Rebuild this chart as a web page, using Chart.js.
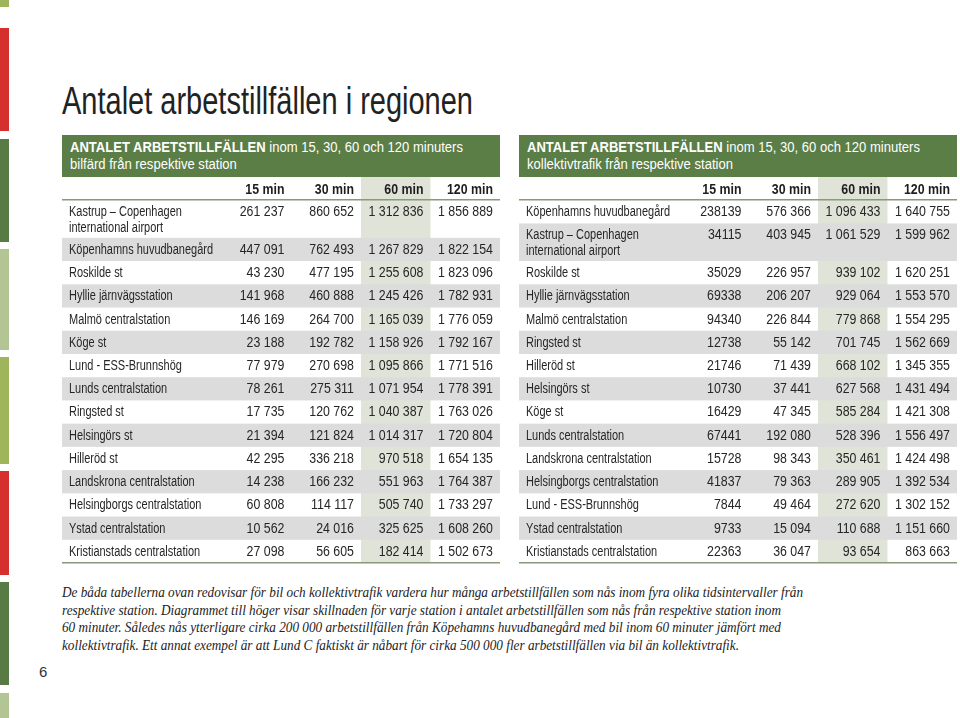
<!DOCTYPE html>
<html><head><meta charset="utf-8">
<script src="https://cdn.jsdelivr.net/npm/chart.js@4.4.1/dist/chart.umd.min.js"></script>
<style>
html,body{margin:0;padding:0;background:#fff}
body{width:960px;height:718px;position:relative;overflow:hidden;font-family:"Liberation Sans",Arial,sans-serif;color:#2b2b2b}
.stripe{position:absolute;left:0;width:9px}
#title{position:absolute;left:62px;top:81px;margin:0;font-weight:normal;font-size:38px;line-height:40px;white-space:nowrap;color:#222;transform-origin:0 0;display:inline-block}
.bar{position:absolute;top:135px;height:42px;width:438px;background:#5b7d46;color:#fff;box-sizing:border-box;padding:4px 0 0 8px;font-size:15.5px;line-height:16.5px}
.bar span{display:inline-block;white-space:nowrap;transform-origin:0 0}
canvas.tbl{position:absolute;top:177px}
#caption{position:absolute;left:62px;top:584px;font-family:"Liberation Serif",serif;font-style:italic;font-size:14px;line-height:17.6px;color:#222}
#caption span{display:inline-block;white-space:nowrap;transform-origin:0 0}
#pnum{position:absolute;left:39px;top:663px;font-size:15px;color:#333}
</style></head>
<body>
<div class="stripe" style="top:0;height:7px;background:#9fb55b"></div>
<div class="stripe" style="top:28px;height:103px;background:#d6302e"></div>
<div class="stripe" style="top:139px;height:103px;background:#587a45"></div>
<div class="stripe" style="top:249px;height:101px;background:#b3c495"></div>
<div class="stripe" style="top:357px;height:107px;background:#9fb55b"></div>
<div class="stripe" style="top:471px;height:104px;background:#d6302e"></div>
<div class="stripe" style="top:582px;height:103px;background:#587a45"></div>
<div class="stripe" style="top:693px;height:25px;background:#b3c495"></div>

<h1 id="title">Antalet arbetstillfällen i regionen</h1>

<div class="bar" style="left:62px"><span id="h1a"><b>ANTALET ARBETSTILLFÄLLEN</b> inom 15, 30, 60 och 120 minuters</span><br><span id="h1b">bilfärd från respektive station</span></div>
<div class="bar" style="left:519px"><span id="h2a"><b>ANTALET ARBETSTILLFÄLLEN</b> inom 15, 30, 60 och 120 minuters</span><br><span id="h2b">kollektivtrafik från respektive station</span></div>

<canvas class="tbl" id="carTable" width="438" height="389" style="left:62px"></canvas>
<canvas class="tbl" id="ptTable" width="438" height="389" style="left:519px"></canvas>

<div id="caption">
<span id="cap1">De båda tabellerna ovan redovisar för bil och kollektivtrafik vardera hur många arbetstillfällen som nås inom fyra olika tidsintervaller från</span><br>
<span id="cap2">respektive station. Diagrammet till höger visar skillnaden för varje station i antalet arbetstillfällen som nås från respektive station inom</span><br>
<span id="cap3">60 minuter. Således nås ytterligare cirka 200 000 arbetstillfällen från Köpehamns huvudbanegård med bil inom 60 minuter jämfört med</span><br>
<span id="cap4">kollektivtrafik. Ett annat exempel är att Lund C faktiskt är nåbart för cirka 500 000 fler arbetstillfällen via bil än kollektivtrafik.</span>
</div>
<div id="pnum">6</div>

<script>
// ---- Data ----
const columns = ['15 min', '30 min', '60 min', '120 min'];

const carStations = ['Kastrup – Copenhagen\ninternational airport', 'Köpenhamns huvudbanegård', 'Roskilde st',
  'Hyllie järnvägsstation', 'Malmö centralstation', 'Köge st', 'Lund - ESS-Brunnshög', 'Lunds centralstation',
  'Ringsted st', 'Helsingörs st', 'Hilleröd st', 'Landskrona centralstation', 'Helsingborgs centralstation',
  'Ystad centralstation', 'Kristianstads centralstation'];
const car15  = [261237, 447091, 43230, 141968, 146169, 23188, 77979, 78261, 17735, 21394, 42295, 14238, 60808, 10562, 27098];
const car30  = [860652, 762493, 477195, 460888, 264700, 192782, 270698, 275311, 120762, 121824, 336218, 166232, 114117, 24016, 56605];
const car60  = [1312836, 1267829, 1255608, 1245426, 1165039, 1158926, 1095866, 1071954, 1040387, 1014317, 970518, 551963, 505740, 325625, 182414];
const car120 = [1856889, 1822154, 1823096, 1782931, 1776059, 1792167, 1771516, 1778391, 1763026, 1720804, 1654135, 1764387, 1733297, 1608260, 1502673];

const ptStations = ['Köpenhamns huvudbanegård', 'Kastrup – Copenhagen\ninternational airport', 'Roskilde st',
  'Hyllie järnvägsstation', 'Malmö centralstation', 'Ringsted st', 'Hilleröd st', 'Helsingörs st', 'Köge st',
  'Lunds centralstation', 'Landskrona centralstation', 'Helsingborgs centralstation', 'Lund - ESS-Brunnshög',
  'Ystad centralstation', 'Kristianstads centralstation'];
const pt15  = [238139, 34115, 35029, 69338, 94340, 12738, 21746, 10730, 16429, 67441, 15728, 41837, 7844, 9733, 22363];
const pt30  = [576366, 403945, 226957, 206207, 226844, 55142, 71439, 37441, 47345, 192080, 98343, 79363, 49464, 15094, 36047];
const pt60  = [1096433, 1061529, 939102, 929064, 779868, 701745, 668102, 627568, 585284, 528396, 350461, 289905, 272620, 110688, 93654];
const pt120 = [1640755, 1599962, 1620251, 1553570, 1554295, 1562669, 1345355, 1431494, 1421308, 1556497, 1424498, 1392534, 1302152, 1151660, 863663];

// digit grouping per column (the public-transport 15 min column is printed without spaces)
const carGrouped = [true, true, true, true];
const ptGrouped  = [false, true, true, true];

// ---- Rendering ----
function fmt(v, grouped) {
  const s = String(v);
  return grouped ? s.replace(/\B(?=(\d{3})+(?!\d))/g, ' ') : s;
}

const FONT = '"Liberation Sans", Arial, sans-serif';

function condensedText(ctx, text, x, y, align, sx) {
  ctx.save();
  ctx.translate(x, y);
  ctx.scale(sx, 1);
  ctx.textAlign = align;
  ctx.fillText(text, 0, 0);
  ctx.restore();
}

const tablePlugin = {
  id: 'tableCells',
  afterDraw(chart) {
    const cfg = chart.options.plugins.tableCells;
    const { ctx } = chart;
    const x = chart.scales.x, y = chart.scales.y;
    const rb = cfg.rowBounds, cb = cfg.colBounds;
    const X = v => x.getPixelForValue(v), Y = v => y.getPixelForValue(v);
    const left = X(cb[0]), right = X(cb[cb.length - 1]);
    ctx.save();
    // highlighted 60 min column
    ctx.fillStyle = '#dfe3d8';
    ctx.fillRect(X(cb[3]), Y(rb[0]), X(cb[4]) - X(cb[3]), Y(rb[rb.length - 1]) - Y(rb[0]));
    // alternating grey rows
    ctx.fillStyle = '#dcdcdc';
    for (let i = 0; i < cfg.stations.length; i++) {
      if (i % 2 === 1) {
        const t = Y(rb[i + 1]), b = Y(rb[i + 2]);
        ctx.fillRect(left, t, right - left, b - t);
      }
    }
    // rules
    ctx.strokeStyle = '#879a79';
    ctx.lineWidth = 1.6;
    [rb[1], rb[rb.length - 1]].forEach(v => {
      const yy = Math.round(Y(v)) - 0.2;
      ctx.beginPath(); ctx.moveTo(left, yy); ctx.lineTo(right, yy); ctx.stroke();
    });
    ctx.textBaseline = 'alphabetic';
    // condense factors to mimic the narrow print face
    ctx.font = '14px ' + FONT;
    const sxText = 144 / ctx.measureText('Köpenhamns huvudbanegård').width;
    const sxNum = 55 / ctx.measureText('1 312 836').width;
    ctx.font = 'bold 14.5px ' + FONT;
    const sxHead = 46 / ctx.measureText('120 min').width;
    // header
    ctx.fillStyle = '#1e1e1e';
    cfg.columns.forEach((c, j) => {
      condensedText(ctx, c, X(cb[j + 2]) - 7, Y(rb[0]) + 16.5, 'right', sxHead);
    });
    // body
    ctx.font = '14px ' + FONT;
    ctx.fillStyle = '#262626';
    cfg.stations.forEach((s, i) => {
      const top = Y(rb[i + 1]) + 16;
      s.split('\n').forEach((line, k) => condensedText(ctx, line, X(cb[0]) + 7, top + k * 15.5, 'left', sxText));
      cfg.values.forEach((arr, j) => {
        condensedText(ctx, fmt(arr[i], cfg.grouped[j]), X(cb[j + 2]) - 7, top, 'right', sxNum);
      });
    });
    ctx.restore();
  }
};

function makeTable(id, stations, values, grouped) {
  const weights = [1].concat(stations.map(s => s.includes('\n') ? 1.62 : 1));
  const rowBounds = [0];
  weights.forEach(w => rowBounds.push(rowBounds[rowBounds.length - 1] + w));
  const colBounds = [0, 2.3, 3.3, 4.3, 5.3, 6.3];
  const total = rowBounds[rowBounds.length - 1];
  new Chart(document.getElementById(id), {
    type: 'scatter',
    data: { datasets: [] },
    options: {
      responsive: false, animation: false, events: [],
      layout: { padding: { left: 0, right: 0, top: 0, bottom: 3 } },
      plugins: {
        legend: { display: false }, tooltip: { enabled: false },
        tableCells: { stations, values, grouped, columns, rowBounds, colBounds }
      },
      scales: {
        x: { type: 'linear', display: false, offset: false, min: 0, max: 6.3 },
        y: { type: 'linear', display: false, offset: false, min: 0, max: total, reverse: true }
      }
    },
    plugins: [tablePlugin]
  });
}

makeTable('carTable', carStations, [car15, car30, car60, car120], carGrouped);
makeTable('ptTable', ptStations, [pt15, pt30, pt60, pt120], ptGrouped);

// fit text runs to the widths in the printed page
function scaleTo(ids, refId, w) {
  const s = w / document.getElementById(refId).getBoundingClientRect().width;
  ids.forEach(id => { document.getElementById(id).style.transform = 'scaleX(' + s + ')'; });
}
scaleTo(['title'], 'title', 411);
scaleTo(['h1a', 'h1b'], 'h1a', 393);
scaleTo(['h2a', 'h2b'], 'h2a', 393);
scaleTo(['cap1', 'cap2', 'cap3', 'cap4'], 'cap1', 741);
</script>
</body></html>
